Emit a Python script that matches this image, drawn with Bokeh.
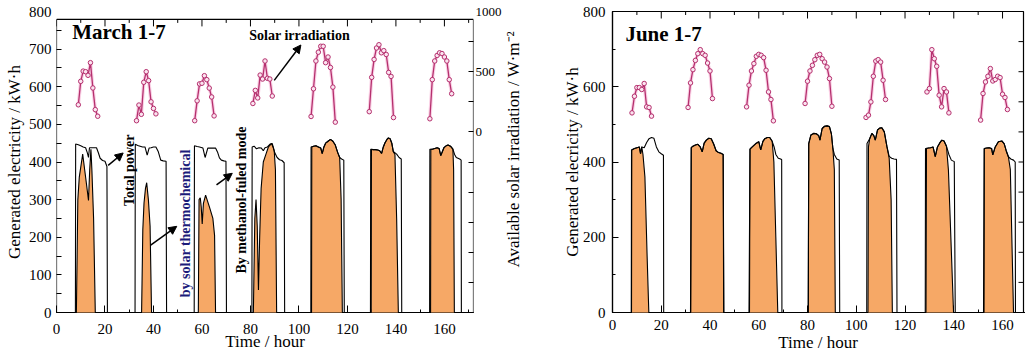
import math
from bokeh.plotting import figure
from bokeh.models import Range1d, LinearAxis, FixedTicker, Label, Arrow, NormalHead
from bokeh.layouts import row
from bokeh.embed import file_html
from bokeh.resources import INLINE

FONT = "Liberation Serif"
ORANGE = "#F6A866"
PINK = "#B5306E"
GLOW = "#F5A9CF"
NAVY = "#1C1C7A"
NAN = float("nan")

# ---------------- data: March 1-7 ----------------
march_total_t = [
    0, 7.8, 7.9, 9, 10, 11, 12, 12.7, 13.2, 13.6, 14.5, 15.5, 16.5, 17.3, 18, 19, 20, 20.8, 21.0,
    32.4, 32.5, 33.5, 34.5, 35.5, 36.5, 37.4, 38.2, 39, 40, 41, 42, 43, 44, 45.2, 45.4,
    56.8, 56.9, 58, 59, 60.4, 61.3, 62.4, 63.5, 64.5, 65.6, 66.5, 67.2, 68, 69, 69.9, 70.1,
    80.6, 80.7, 81.5, 82.5, 83.5, 84.5, 85.3, 86, 87, 88, 88.7, 89.3, 90, 91, 92, 93, 93.9, 94.1,
    104.9, 105.0, 106, 107, 108, 109, 109.6, 110.3, 111, 112, 113, 114, 115, 116, 116.8, 117.6, 118.5, 118.7,
    129.5, 129.6, 130.5, 131.5, 132.5, 133.3, 134.1, 134.8, 135.5, 136.3, 136.9, 137.6, 138.3, 138.9, 140.3, 141.3, 142.2, 142.4,
    153.9, 154.0, 155, 156, 157, 157.8, 158.5, 159.3, 159.8, 160.7, 161.5, 162.5, 163.5, 164.2, 164.9, 166.3, 166.9, 167.0, 172]
march_total_kwh = [
    0, 0, 448, 446, 443, 440, 438, 425, 412, 438, 438, 438, 438, 424, 410, 404, 402, 388, 0,
    0, 447, 444, 442, 440, 440, 418, 437, 438, 440, 440, 427, 405, 403, 402, 0,
    0, 443, 441, 440, 437, 412, 437, 437, 437, 437, 425, 411, 405, 403, 402, 0,
    0, 440, 442, 435, 438, 437, 430, 438, 440, 447, 449, 440, 425, 412, 406, 404, 398, 0,
    0, 440, 442, 443, 440, 437, 422, 440, 450, 455, 460, 455, 445, 425, 412, 408, 405, 0,
    0, 434, 433, 433, 432, 430, 423, 440, 451, 460, 464, 462, 450, 428, 421, 412, 408, 0,
    0, 434, 434, 436, 438, 436, 417, 430, 438, 443, 445, 442, 434, 420, 412, 408, 405, 0, 0]
march_solar_t = [
    0, 8.2, 8.8, 9.4, 10.8, 12.0, 13.2, 13.7, 14.2, 14.6, 15.3, 16.0,
    35.1, 35.6, 36.1, 36.7, 37.2, 37.9, 38.6, 39.2,
    58.5, 58.8, 59.3, 59.7, 60.1, 60.6, 61.5, 63.1, 64.5, 65.2, 65.6,
    81.2, 81.8, 82.3, 82.8, 83.3, 83.8, 84.4, 85.3, 86.4, 87.4, 88.4, 89.0, 89.8, 90.3, 90.8,
    105.2, 105.3, 106, 107, 108, 109, 109.6, 110.3, 111, 112, 113, 114, 115, 116, 116.8, 117.4, 117.9,
    129.8, 129.9, 130.5, 131.5, 132.5, 133.3, 134.1, 134.8, 135.5, 136.3, 136.9, 137.6, 138.3, 138.9, 139.6, 140.3, 141.0,
    154.3, 154.4, 155, 156, 157, 157.8, 158.5, 159.3, 159.8, 160.7, 161.5, 162.5, 163.5, 163.8, 164.1, 172]
march_solar_kwh = [
    0, 0, 300, 360, 421, 360, 298, 380, 434, 378, 250, 0,
    0, 220, 291, 330, 345, 300, 230, 0,
    0, 300, 305, 280, 235, 290, 312, 280, 250, 205, 0,
    0, 250, 300, 230, 60, 200, 330, 400, 421, 440, 447, 449, 430, 380, 0,
    0, 440, 442, 443, 440, 437, 422, 440, 450, 455, 460, 455, 445, 425, 412, 300, 0,
    0, 434, 433, 433, 432, 430, 423, 440, 451, 460, 464, 462, 450, 428, 420, 250, 0,
    0, 434, 434, 436, 438, 436, 417, 430, 438, 443, 445, 442, 434, 380, 0, 0]
march_irr_start = [9, 33, 57, 81, 105, 129, 154]
march_irr_days = [
    [225, 420, 505, 500, 470, 575, 365, 185, 130],
    [93, 223, 146, 412, 500, 426, 250, 195, 150],
    [93, 258, 399, 404, 467, 434, 364, 290, 133],
    [236, 345, 282, 472, 439, 589, 445, 439, 298],
    [128, 358, 589, 662, 711, 711, 575, 622, 535, 372, 81],
    [168, 453, 602, 697, 724, 657, 675, 643, 494, 461, 119],
    [109, 434, 589, 635, 657, 651, 622, 589, 434, 317]]

# ---------------- data: June 1-7 ----------------
june_total_t = [
    0, 7.7, 7.8, 9, 10, 11, 11.5, 12, 13, 14, 15, 16, 17, 18, 19, 20, 20.9, 21.0,
    32.1, 32.3, 33, 34, 35, 36, 36.8, 37.6, 38.5, 39.5, 40.5, 41.5, 42.5, 43.5, 44.5, 45.4, 45.6,
    56.2, 56.4, 57, 58, 59, 60, 60.8, 61.7, 62.5, 63.5, 64.5, 65.5, 66.3, 67, 68, 69, 69.4, 69.5,
    80.3, 80.5, 81.4, 82.5, 83.6, 84.6, 85.1, 86, 87, 88, 89, 89.8, 90.4, 91, 92, 93, 93.2,
    104.3, 104.4, 105.5, 106.4, 107.2, 107.8, 108.7, 109.6, 110.5, 111.5, 112.6, 113.5, 114.5, 115.5, 116.5, 116.7,
    128.3, 128.4, 129.5, 130.5, 131.5, 132.4, 133.3, 134.2, 135.1, 136, 137, 138, 139, 140.2, 140.6,
    152.4, 152.5, 153.5, 154.5, 155.5, 156, 157, 158.3, 159.7, 160.7, 161.5, 162.4, 163.4, 164.5, 165.2, 165.3, 170]
june_total_kwh = [
    0, 0, 432, 436, 438, 440, 422, 440, 438, 452, 462, 465, 463, 440, 427, 422, 418, 0,
    0, 438, 442, 445, 447, 440, 427, 450, 458, 463, 462, 448, 430, 425, 423, 420, 0,
    0, 434, 438, 444, 450, 454, 432, 455, 462, 465, 465, 455, 440, 420, 410, 408, 406, 0,
    0, 449, 472, 476, 475, 470, 458, 489, 495, 496, 494, 475, 436, 420, 408, 405, 0,
    0, 449, 462, 476, 470, 458, 485, 490, 491, 480, 440, 415, 410, 408, 407, 0,
    0, 436, 437, 438, 440, 414, 440, 450, 458, 456, 442, 420, 405, 401, 0,
    0, 436, 437, 438, 436, 419, 440, 454, 456, 448, 430, 414, 408, 405, 400, 0, 0]
june_solar_t = [
    0, 7.8, 7.9, 9, 10, 11, 11.5, 12, 12.5, 13.3, 14.2, 14.9,
    32.0, 32.3, 33, 34, 35, 36, 36.8, 37.6, 38.5, 39.5, 40.5, 41.5, 42.5, 43.5, 44.5, 45.4, 45.7,
    56.0, 56.4, 57, 58, 59, 60, 60.8, 61.7, 62.5, 63.5, 64.5, 65.5, 66.2, 67.0, 67.8,
    80.3, 80.5, 81.4, 82.5, 83.6, 84.6, 85.1, 86, 87, 88, 89, 89.8, 90.4, 91.0, 91.4,
    104.8, 105.0, 105.5, 106.4, 107.2, 107.8, 108.7, 109.6, 110.5, 111.5, 112.6, 113.5, 114.3, 114.8,
    128.6, 128.8, 129.5, 130.5, 131.5, 132.4, 133.3, 134.2, 135.1, 136, 137, 137.8, 138.8, 139.9,
    152.2, 152.5, 153.5, 154.5, 155.5, 156, 157, 158.3, 159.7, 160.7, 161.5, 162.4, 163.2, 164.5, 170]
june_solar_kwh = [
    0, 0, 432, 436, 438, 440, 422, 440, 420, 360, 150, 0,
    0, 438, 442, 445, 447, 440, 427, 450, 458, 463, 462, 448, 430, 425, 423, 420, 0,
    0, 434, 438, 444, 450, 454, 432, 455, 462, 465, 465, 455, 400, 200, 0,
    0, 449, 472, 476, 475, 470, 458, 489, 495, 496, 494, 475, 436, 380, 0,
    0, 440, 462, 476, 470, 458, 485, 490, 491, 480, 440, 410, 300, 0,
    0, 436, 437, 438, 440, 414, 440, 450, 458, 456, 442, 379, 200, 0,
    0, 436, 437, 438, 436, 419, 440, 454, 456, 448, 430, 414, 380, 0, 0]
june_irr_start = [8, 31, 55, 79, 104, 129, 151]
june_irr_days = [
    [158, 296, 368, 368, 352, 402, 208, 203, 131],
    [203, 407, 517, 594, 650, 683, 650, 636, 572, 506, 277],
    [208, 388, 506, 567, 628, 644, 636, 617, 512, 332, 269, 92],
    [236, 421, 506, 553, 600, 636, 644, 608, 580, 539, 443, 213],
    [120, 139, 249, 462, 588, 600, 580, 429, 269],
    [332, 360, 683, 608, 545, 305, 208, 360, 332, 158],
    [98, 319, 415, 462, 526, 423, 435, 462, 451, 313, 286, 186]]

x_ticks = [0, 20, 40, 60, 80, 100, 120, 140, 160]
x_minor = [10, 30, 50, 70, 90, 110, 130, 150, 170]
irr_labeled = [0, 500, 1000]
irr_ticks = [-1250, -1000, -750, -500, -250, 0, 250, 500, 750]

# the March frame box closes a little below the 800 gridline (as in the original)
MARCH_BOX_TOP = 779


def irr_series(starts, days):
    xs, ys = [], []
    for s, vals in zip(starts, days):
        xs += [s + i for i in range(len(vals))] + [NAN]
        ys += list(vals) + [NAN]
    return xs, ys


def tick_style(ax, size="15px"):
    ax.axis_line_color = "black"
    ax.axis_line_width = 1.2
    ax.major_tick_line_color = "black"
    ax.minor_tick_line_color = "black"
    ax.major_tick_out = 0
    ax.minor_tick_out = 0
    ax.major_tick_in = 6
    ax.minor_tick_in = 3
    ax.major_label_text_font = FONT
    ax.major_label_text_color = "black"
    ax.major_label_text_font_size = size
    ax.axis_label_text_font = FONT
    ax.axis_label_text_font_size = "17px"
    ax.axis_label_text_font_style = "normal"
    ax.axis_label_text_color = "black"


def panel(width, bl, br, bt, bb, xmax, y_ticks, y_minor, ylabel, total_t, total_y,
          solar_t, solar_y, irr_start, irr_days, march):
    p = figure(width=width, height=354, x_range=Range1d(0, xmax), y_range=Range1d(0, 800),
               output_backend="svg", toolbar_location=None,
               min_border_left=bl, min_border_right=br, min_border_top=bt, min_border_bottom=bb)
    p.extra_y_ranges = {"irr": Range1d(-1500, 1000)}
    p.grid.visible = False
    p.background_fill_color = "white"
    p.border_fill_color = "white"
    box_top = MARCH_BOX_TOP if march else 800

    xa = p.xaxis[0]
    xa.ticker = FixedTicker(ticks=x_ticks, minor_ticks=x_minor)
    tick_style(xa)
    xa.major_tick_in = 7
    xa.axis_label = "Time / hour"

    ya = p.yaxis[0]
    ya.ticker = FixedTicker(ticks=y_ticks, minor_ticks=y_minor)
    tick_style(ya)
    ya.axis_label = ylabel

    # inward ticks of the top axis (mirror of the bottom one)
    p.ray(x=x_ticks, y=[box_top] * len(x_ticks), length=7, length_units="screen",
          angle=-math.pi / 2, line_color="black", line_width=1)
    p.ray(x=x_minor, y=[box_top] * len(x_minor), length=3.5, length_units="screen",
          angle=-math.pi / 2, line_color="black", line_width=1)

    if march:
        p.outline_line_color = None
        ya.axis_line_color = None
        ya.major_tick_line_color = None
        ya.minor_tick_in = 5
        right = LinearAxis(y_range_name="irr",
                           ticker=FixedTicker(ticks=irr_labeled, minor_ticks=irr_ticks))
        tick_style(right, size="13px")
        right.axis_line_color = None
        right.major_tick_line_color = None
        right.minor_tick_in = 5
        right.major_label_standoff = 2
        p.add_layout(right, "right")
        # left, top and right sides of the box
        p.segment(x0=[0, 0, xmax], y0=[0, box_top, 0], x1=[0, xmax, xmax],
                  y1=[box_top, box_top, box_top], line_color="black", line_width=1.2)
    else:
        p.outline_line_color = "black"
        p.outline_line_width = 1.2
        ticks = irr_ticks + [1000]
        p.ray(x=[xmax] * len(ticks), y=ticks, y_range_name="irr", length=5,
              length_units="screen", angle=math.pi, line_color="black", line_width=1)

    p.varea(x=solar_t, y1=[0] * len(solar_t), y2=solar_y, fill_color=ORANGE, level="overlay")
    p.line(solar_t, solar_y, line_color="black", line_width=1.1, level="overlay")
    p.line(total_t, total_y, line_color="black", line_width=1.1, level="overlay")

    ix, iy = irr_series(irr_start, irr_days)
    p.line(ix, iy, y_range_name="irr", line_color=GLOW, line_width=3.5, line_alpha=0.55, level="overlay")
    p.line(ix, iy, y_range_name="irr", line_color=PINK, line_width=1.3, level="overlay")
    p.scatter(ix, iy, y_range_name="irr", marker="circle", size=4.5, line_color=PINK,
              fill_color="#FBE3EF", line_width=1, level="overlay")
    return p


def text(p, x, y, s, size, bold=False, angle=0.0, align="left", color="black"):
    p.add_layout(Label(x=x, y=y, text=s, text_font=FONT, text_font_size=size,
                       text_font_style="bold" if bold else "normal", text_color=color,
                       angle=angle, text_align=align, text_baseline="middle"))


def arrow(p, x0, y0, x1, y1):
    p.add_layout(Arrow(end=NormalHead(size=8, fill_color="black", line_color="black"),
                       x_start=x0, y_start=y0, x_end=x1, y_end=y1,
                       line_color="black", line_width=1.5))


# March panel: frame x 56..475, y 8..315
p1 = panel(504, 56, 29, 8, 39, 172, [0, 100, 200, 300, 400, 500, 600, 700, 800],
           [0, 50, 100, 150, 200, 250, 300, 350, 400, 450, 500, 550, 600, 650, 700, 750],
           "Generated electricity / kW\u00b7h",
           march_total_t, march_total_kwh, march_solar_t, march_solar_kwh,
           march_irr_start, march_irr_days, True)
p1.xaxis[0].major_label_standoff = 11
p1.xaxis[0].axis_label_standoff = -5
p1.yaxis[0].major_label_standoff = 5
p1.yaxis[0].axis_label_standoff = 2
text(p1, 6.5, 746, "March 1-7", "21px", bold=True)
text(p1, 79.5, 737, "Solar irradiation", "14px", bold=True)
arrow(p1, 89.8, 617, 100.8, 711)
text(p1, 30.3, 378, "Total power", "14px", bold=True, angle=math.pi / 2, align="center")
arrow(p1, 21.3, 391, 27.5, 424)
text(p1, 53.3, 237, "by solar thermochemical", "14px", bold=True, angle=math.pi / 2,
     align="center", color=NAVY)
arrow(p1, 37.7, 174, 49.6, 229)
text(p1, 76.2, 299, "By methanol-fuled mode", "14px", bold=True, angle=math.pi / 2, align="center")
arrow(p1, 66, 339, 72.5, 370)

# strip holding the title of the March irradiation axis (reads bottom to top)
pt = figure(width=21, height=354, x_range=Range1d(0, 1), y_range=Range1d(0, 354),
            output_backend="svg", toolbar_location=None, x_axis_type=None, y_axis_type=None,
            min_border_left=0, min_border_right=0, min_border_top=0, min_border_bottom=0)
pt.grid.visible = False
pt.outline_line_color = None
pt.border_fill_color = "white"
text(pt, 0.45, 192, "Available solar irradiation / W\u00b7m\u207b\u00b2", "17px",
     angle=math.pi / 2, align="center")

# June panel: frame x 612..1023, y 11..313
p2 = panel(500, 87, 2, 11, 41, 168.6, [0, 200, 400, 600, 800], [100, 300, 500, 700],
           "Generated elecricity / kW\u00b7h",
           june_total_t, june_total_kwh, june_solar_t, june_solar_kwh,
           june_irr_start, june_irr_days, False)
p2.xaxis[0].major_label_standoff = 7
p2.xaxis[0].axis_label_standoff = 0
p2.yaxis[0].major_label_standoff = 7
p2.yaxis[0].axis_label_standoff = -2
text(p2, 5.3, 739, "June 1-7", "21px", bold=True)

layout = row(p1, pt, p2)
open("out.html", "w").write(file_html(layout, INLINE))
